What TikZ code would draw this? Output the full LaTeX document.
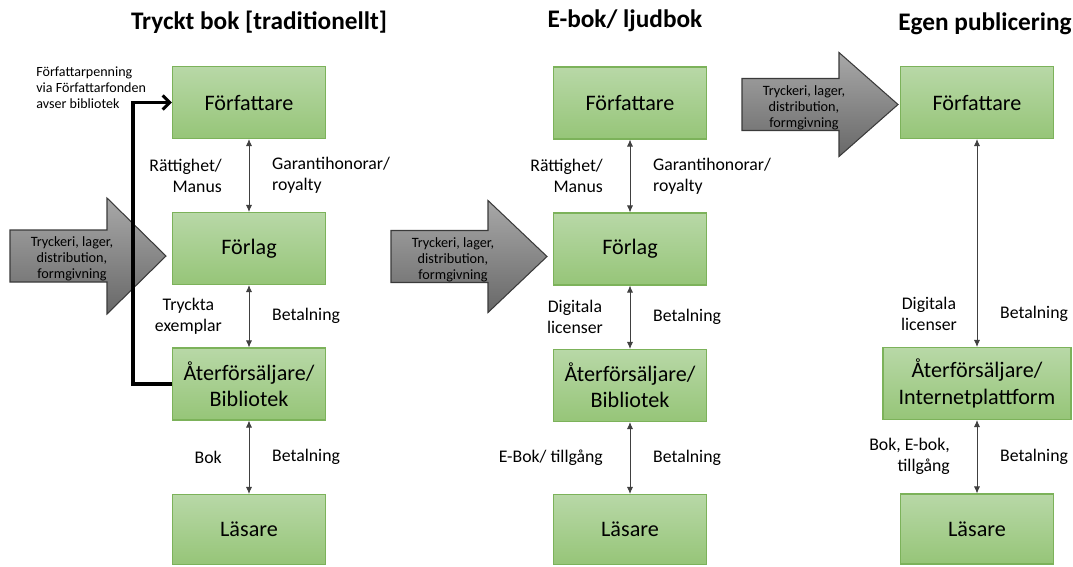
\documentclass[tikz,border=0pt]{standalone}
\usepackage{fontspec}
\setmainfont{Carlito}
\usetikzlibrary{arrows.meta}
\definecolor{boxtop}{RGB}{184,216,167}
\definecolor{boxbot}{RGB}{150,197,120}
\definecolor{boxline}{RGB}{124,178,90}
\definecolor{arrtop}{RGB}{168,168,168}
\definecolor{arrbot}{RGB}{104,104,104}
\definecolor{arrline}{RGB}{58,58,58}

\begin{document}
\begin{tikzpicture}[x=0.02cm, y=-0.02cm,
  box/.style={draw=boxline, line width=0.6pt, top color=boxtop, bottom color=boxbot,
    minimum width=3.06cm, minimum height=1.44cm, align=center, inner sep=1pt,
    font=\fontsize{12.6}{15}\selectfont},
  lbl/.style={font=\fontsize{10.1}{12}\selectfont, inner sep=1pt},
  dbl/.style={draw=black!75, line width=0.5pt,
    {Latex[length=4pt,width=3.5pt]}-{Latex[length=4pt,width=3.5pt]}},
  title/.style={font=\fontsize{14.4}{16}\selectfont\bfseries},
  worktext/.style={font=\fontsize{8.1}{9.2}\selectfont, align=center, inner sep=0pt}]

\useasboundingbox (0,0) rectangle (1073,566);

% titles
\node[title] (title1) at (259,22) {Tryckt bok [traditionellt]};
\node[title] (title2) at (625,21) {E-bok/ ljudbok};
\node[title] (title3) at (985,24) {Egen publicering};

% grey arrows
\foreach \ax/\ay/\ah [count=\i] in {10/256/58, 391/256.5/56, 742/104.5/52} {
  \shade[top color=arrtop, bottom color=arrbot, draw=arrline, line width=0.6pt]
    (\ax,\ay-26) -- (\ax+97,\ay-26) -- (\ax+97,\ay-\ah) -- (\ax+156,\ay)
    -- (\ax+97,\ay+\ah) -- (\ax+97,\ay+26) -- (\ax,\ay+26) -- cycle;
  \node[worktext] (work\i) at (\ax+62,\ay+3) {Tryckeri, lager,\\distribution,\\formgivning};
}

% tryckt bok
\node[box] (forf1) at (249,102.5) {Författare};
\node[box] (forl1) at (249,248.5) {Förlag};
\node[box] (ater1) at (249,384) {Återförsäljare/\\Bibliotek};
\node[box, minimum height=1.40cm] (las1) at (249,529.5) {Läsare};

\draw[dbl] (forf1) -- node[lbl, left=0.5cm, align=right] {Rättighet/\\Manus}
  node[lbl, right=0.42cm, align=left] {Garantihonorar/\\royalty} (forl1);
\draw[dbl] (forl1) -- node[lbl, left=0.5cm, align=center] {Tryckta\\exemplar}
  node[lbl, right=0.42cm] {Betalning} (ater1);
\draw[dbl] (ater1) -- node[lbl, left=0.5cm] {Bok}
  node[lbl, right=0.42cm] {Betalning} (las1);

\draw[line width=1.8pt, -{Straight Barb[length=4pt,width=8pt]}]
  (ater1.west) -- ++(-39,0) |- (forf1.west);
\node[font=\fontsize{8}{9}\selectfont, align=left, anchor=west, inner sep=0pt] (fond)
  at (36,88) {Författarpenning\\via Författarfonden\\avser bibliotek};

% e-bok
\node[box] (forf2) at (630,103) {Författare};
\node[box] (forl2) at (630,249) {Förlag};
\node[box] (ater2) at (630,385.5) {Återförsäljare/\\Bibliotek};
\node[box, minimum height=1.40cm] (las2) at (630,529.5) {Läsare};

\draw[dbl] (forf2) -- node[lbl, left=0.5cm, align=right] {Rättighet/\\Manus}
  node[lbl, right=0.42cm, align=left] {Garantihonorar/\\royalty} (forl2);
\draw[dbl] (forl2) -- node[lbl, left=0.5cm, align=center] {Digitala\\licenser}
  node[lbl, right=0.42cm] {Betalning} (ater2);
\draw[dbl] (ater2) -- node[lbl, left=0.5cm] {E-Bok/ tillgång}
  node[lbl, right=0.42cm] {Betalning} (las2);

% egen publicering
\node[box] (forf3) at (977,102.5) {Författare};
\node[box, minimum width=3.76cm] (ater3) at (977,383.5) {Återförsäljare/\\Internetplattform};
\node[box, minimum height=1.40cm] (las3) at (977,529) {Läsare};

\draw[dbl] (forf3) -- node[lbl, pos=0.84, left=0.36cm, align=center] {Digitala\\licenser}
  node[lbl, pos=0.84, right=0.42cm] {Betalning} (ater3);
\draw[dbl] (ater3) -- node[lbl, left=0.5cm, align=right] {Bok, E-bok,\\tillgång}
  node[lbl, right=0.42cm] {Betalning} (las3);
\end{tikzpicture}
\end{document}
